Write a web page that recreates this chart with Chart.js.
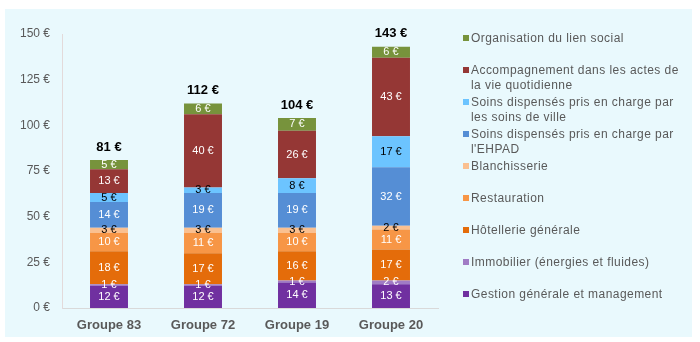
<!DOCTYPE html>
<html><head><meta charset="utf-8">
<script src="https://cdn.jsdelivr.net/npm/chart.js@4.4.1/dist/chart.umd.min.js"></script>
<style>
html,body{margin:0;padding:0;background:#fff;}
#wrap{position:relative;width:700px;height:342px;background:#fff;}
#bg{position:absolute;left:5px;top:9px;width:687px;height:328px;background:#e9f9fd;}
#cv{position:absolute;left:0;top:0;}
#legend{position:absolute;left:463px;top:31px;font-family:"Liberation Sans",Arial,sans-serif;font-size:12px;color:#595959;}
.it{position:absolute;left:0;width:230px;line-height:15px;}
.sw{position:absolute;left:0;top:4px;width:6px;height:6px;}
.tx{position:absolute;left:8px;top:0;width:213px;letter-spacing:0.45px;}
</style></head>
<body><div id="wrap"><div id="bg"></div><canvas id="cv" width="700" height="342"></canvas><div id="legend"></div></div>
<script>
const categories = ["Groupe 83","Groupe 72","Groupe 19","Groupe 20"];
const seriesNames = [
  "Gestion générale et management",
  "Immobilier (énergies et fluides)",
  "Hôtellerie générale",
  "Restauration",
  "Blanchisserie",
  "Soins dispensés pris en charge par l'EHPAD",
  "Soins dispensés pris en charge par les soins de ville",
  "Accompagnement dans les actes de la vie quotidienne",
  "Organisation du lien social"
];
const gestion        = [12, 12, 14, 13];
const immobilier     = [1, 1, 1, 2];
const hotellerie     = [18, 17, 16, 17];
const restauration   = [10, 11, 10, 11];
const blanchisserie  = [3, 3, 3, 2];
const soinsEhpad     = [14, 19, 19, 32];
const soinsVille     = [5, 3, 8, 17];
const accompagnement = [13, 40, 26, 43];
const organisation   = [5, 6, 7, 6];
const totals         = [81, 112, 104, 143];
const yTicks = [0, 25, 50, 75, 100, 125, 150];

const seriesValues = [gestion, immobilier, hotellerie, restauration, blanchisserie, soinsEhpad, soinsVille, accompagnement, organisation];
const colors = ["#7030a0","#a07cc5","#e46c0a","#f79646","#fac090","#558ed5","#6cc4ff","#953735","#77933c"];
const labelColors = ["#fff","#fff","#fff","#fff","#000","#fff","#000","#fff","#fff"];

const datasets = seriesValues.map((v,i)=>({
  label: seriesNames[i], data: v, backgroundColor: colors[i], borderWidth: 0,
  categoryPercentage: 1, barPercentage: 0.404
}));

const labelPlugin = {
  id:'lbl',
  afterDatasetsDraw(chart){
    const ctx = chart.ctx;
    ctx.save();
    ctx.textAlign='center'; ctx.textBaseline='middle';
    ctx.font = '11px "Liberation Sans", Arial, sans-serif';
    chart.data.datasets.forEach((ds,di)=>{
      const meta = chart.getDatasetMeta(di);
      meta.data.forEach((el,j)=>{
        ctx.fillStyle = labelColors[di];
        ctx.fillText(ds.data[j]+' €', el.x, (el.y+el.base)/2);
      });
    });
    const last = chart.getDatasetMeta(chart.data.datasets.length-1);
    ctx.font = 'bold 13px "Liberation Sans", Arial, sans-serif';
    ctx.fillStyle = '#000';
    last.data.forEach((el,j)=>{
      ctx.fillText(totals[j]+' €', el.x, el.y-13);
    });
    ctx.restore();
  }
};

new Chart(document.getElementById('cv'), {
  type:'bar',
  data:{labels:categories, datasets},
  options:{
    responsive:false, animation:false,
    layout:{padding:{top:34,right:262,left:0,bottom:0}},
    plugins:{legend:{display:false}, tooltip:{enabled:false}},
    scales:{
      x:{stacked:true,
         grid:{display:false, drawTicks:false},
         border:{display:true,color:'#d9d9d9',width:1},
         ticks:{color:'#595959',font:{family:'"Liberation Sans", Arial, sans-serif',size:13,weight:'bold'},padding:10},
         afterFit(s){s.height=34;}
      },
      y:{stacked:true,min:0,max:150,
         grid:{display:false, drawTicks:false},
         border:{display:true,color:'#e3dada',width:1},
         afterBuildTicks(s){s.ticks = yTicks.map(v=>({value:v}));},
         ticks:{color:'#595959',font:{family:'"Liberation Sans", Arial, sans-serif',size:12},padding:12,
                callback:v=>v+' €'},
         afterFit(s){s.width=62;}
      }
    }
  },
  plugins:[labelPlugin]
});

// legend (reverse order, top = last series)
const lg = document.getElementById('legend');
for(let k=0;k<seriesNames.length;k++){
  const i = seriesNames.length-1-k;
  const d = document.createElement('div');
  d.className='it'; d.style.top=(k*32)+'px';
  d.innerHTML = '<div class="sw" style="background:'+colors[i]+'"></div><div class="tx"></div>';
  d.querySelector('.tx').textContent = seriesNames[i];
  lg.appendChild(d);
}
</script></body></html>
